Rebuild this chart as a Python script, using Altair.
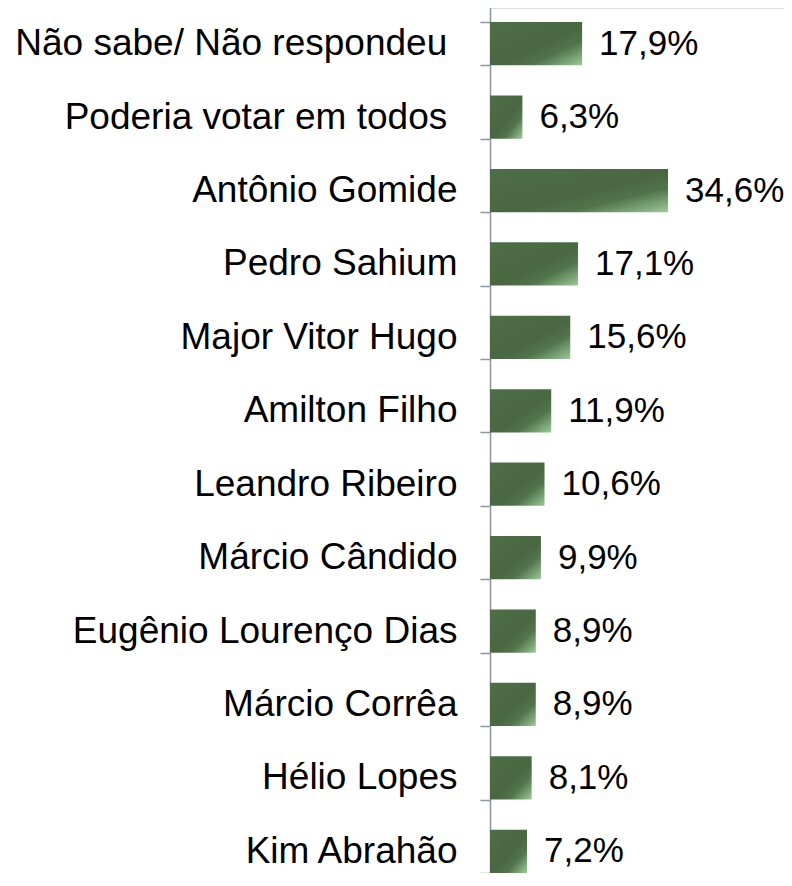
import altair as alt
import pandas as pd

categories = [
    "Não sabe/ Não respondeu\u00a0\u200b",
    "Poderia votar em todos\u00a0\u200b",
    "Antônio Gomide",
    "Pedro Sahium",
    "Major Vitor Hugo",
    "Amilton Filho",
    "Leandro Ribeiro",
    "Márcio Cândido",
    "Eugênio Lourenço Dias",
    "Márcio Corrêa",
    "Hélio Lopes",
    "Kim Abrahão",
]
values = [17.9, 6.3, 34.6, 17.1, 15.6, 11.9, 10.6, 9.9, 8.9, 8.9, 8.1, 7.2]

df = pd.DataFrame({"cat": categories, "val": values})
df["label"] = df["val"].map(lambda v: f"{v:.1f}%".replace(".", ","))

FONT = "Liberation Sans"

y_scale = alt.Scale(paddingInner=0.41, paddingOuter=0.205, range=[-1, 880])
y_enc = alt.Y("cat:N", sort=categories, scale=y_scale,
              axis=alt.Axis(title=None, tickBand="extent", domainColor="#8c949e", tickColor="#8c949e",
                            domainWidth=1.5, tickWidth=1.5, tickSize=10, labelPadding=23,
                            labelFont=FONT, labelFontSize=37, labelColor="#000000", labelLimit=0))
x_enc = alt.X("val:Q", scale=alt.Scale(domain=[0, 57.14], nice=False, zero=True), axis=None)

grad = alt.Gradient(
    gradient="linear",
    stops=[
        alt.GradientStop(offset=0, color="#4e6e48"),
        alt.GradientStop(offset=0.55, color="#496842"),
        alt.GradientStop(offset=0.72, color="#52744c"),
        alt.GradientStop(offset=1, color="#9ccb99"),
    ],
    x1=0, y1=0, x2=1, y2=1,
)

bars = alt.Chart(df).mark_bar(color=grad, cornerRadius=0).encode(y=y_enc, x=x_enc)
texts = alt.Chart(df).mark_text(align="left", baseline="middle", dx=17, font=FONT, fontSize=35,
                                color="#000000").encode(y=alt.Y("cat:N", sort=categories, scale=y_scale),
                                                        x="val:Q", text="label:N")

chart = (bars + texts).properties(
    width=294, height=865,
    autosize=alt.AutoSizeParams(type="none"),
    padding={"left": 482, "top": 0, "right": 0, "bottom": 0},
).configure_view(stroke=None).configure(background="#ffffff")

chart.save("out.html", embed_options={"renderer": "svg", "actions": False})
